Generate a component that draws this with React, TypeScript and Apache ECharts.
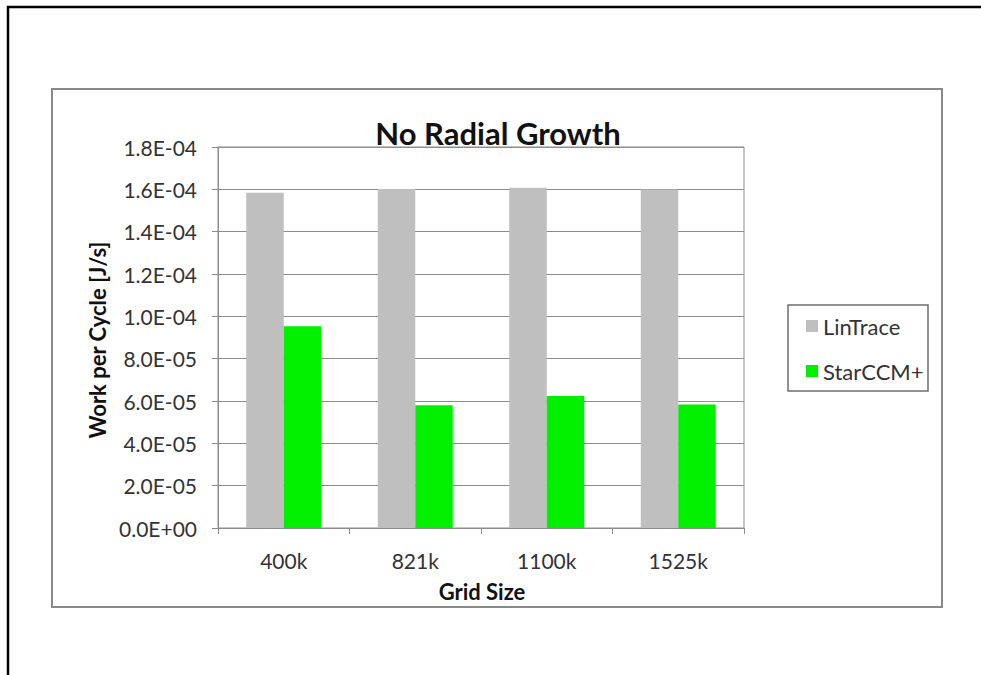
import React, { useEffect, useRef } from "react";
import * as echarts from "echarts";

// Work per cycle for each grid resolution, two solvers
const gridSizes = ["400k", "821k", "1100k", "1525k"];
const seriesNames = ["LinTrace", "StarCCM+"];
const linTrace = [1.584e-4, 1.601e-4, 1.608e-4, 1.599e-4];
const starCCM = [9.53e-5, 5.8e-5, 6.24e-5, 5.83e-5];

const chartTitle = "No Radial Growth";
const xAxisTitle = "Grid Size";
const yAxisTitle = "Work per Cycle [J/s]";
const yMin = 0;
const yMax = 1.8e-4;
const yStep = 2e-5;

const FONT = "Lato, 'Open Sans', sans-serif";

// 1.6E-04 style tick labels
const sci = (v: number): string => {
  const [m, e] = v.toExponential(1).split("e");
  const n = parseInt(e, 10);
  return `${m}E${n < 0 ? "-" : "+"}${String(Math.abs(n)).padStart(2, "0")}`;
};

export default function App() {
  const ref = useRef<HTMLDivElement>(null);

  useEffect(() => {
    if (!ref.current) return;
    const chart = echarts.init(ref.current, undefined, { renderer: "svg" });
    const gridColor = "#8c8c8c";
    chart.setOption({
      animation: false,
      backgroundColor: "#ffffff",
      textStyle: { fontFamily: FONT },
      grid: {
        left: 218,
        top: 147,
        width: 526,
        height: 381,
        show: true,
        borderColor: gridColor,
        borderWidth: 1,
        backgroundColor: "#ffffff",
        containLabel: false,
      },
      legend: {
        data: seriesNames,
        orient: "vertical",
        left: 801,
        top: 310,
        icon: "rect",
        itemWidth: 12,
        itemHeight: 12,
        itemGap: 23,
        textStyle: { fontFamily: FONT, fontSize: 22, color: "#333333", lineHeight: 22 },
      },
      xAxis: {
        type: "category",
        data: gridSizes,
        axisLine: { show: true, lineStyle: { color: gridColor, width: 1 } },
        axisTick: { show: true, length: 6, alignWithLabel: false, lineStyle: { color: gridColor } },
        axisLabel: { fontFamily: FONT, fontSize: 21, color: "#333333", margin: 22 },
        splitLine: { show: false },
      },
      yAxis: {
        type: "value",
        min: yMin,
        max: yMax,
        interval: yStep,
        axisLine: { show: true, lineStyle: { color: gridColor, width: 1 } },
        axisTick: { show: true, length: 6, lineStyle: { color: gridColor } },
        axisLabel: {
          fontFamily: FONT,
          fontSize: 21,
          color: "#333333",
          margin: 21,
          formatter: (v: number) => sci(v),
        },
        splitLine: { show: true, lineStyle: { color: gridColor, width: 1 } },
      },
      series: [
        {
          name: seriesNames[0],
          type: "bar",
          data: linTrace,
          itemStyle: { color: "#bfbfbf" },
          barGap: "0%",
          barCategoryGap: "43%",
        },
        {
          name: seriesNames[1],
          type: "bar",
          data: starCCM,
          itemStyle: { color: "#00f000" },
          barGap: "0%",
          barCategoryGap: "43%",
        },
      ],
      graphic: [
        {
          type: "polyline",
          shape: { points: [[8, 675], [8, 7], [981, 7]] },
          style: { stroke: "#000000", lineWidth: 2.5, fill: "none" },
          silent: true,
        },
        {
          type: "rect",
          shape: { x: 52, y: 89, width: 890, height: 518 },
          style: { stroke: "#8a8a8a", lineWidth: 2, fill: "none" },
          silent: true,
          z: -1,
        },
        {
          type: "rect",
          shape: { x: 788, y: 305, width: 140, height: 86 },
          style: { stroke: "#6e6e6e", lineWidth: 1.5, fill: "none" },
          silent: true,
        },
        {
          type: "text",
          x: 498,
          y: 133,
          style: {
            text: chartTitle,
            font: `bold 31px ${FONT}`,
            fill: "#111111",
            textAlign: "center",
            textVerticalAlign: "middle",
          },
        },
        {
          type: "text",
          x: 482,
          y: 591,
          style: {
            text: xAxisTitle,
            font: `bold 22px ${FONT}`,
            fill: "#111111",
            textAlign: "center",
            textVerticalAlign: "middle",
          },
        },
        {
          type: "text",
          x: 97,
          y: 340,
          rotation: Math.PI / 2,
          style: {
            text: yAxisTitle,
            font: `bold 22px ${FONT}`,
            fill: "#111111",
            textAlign: "center",
            textVerticalAlign: "middle",
          },
        },
      ],
    });
    return () => chart.dispose();
  }, []);

  return (
    <div
      ref={ref}
      style={{ position: "fixed", left: 0, top: 0, width: 981, height: 675, background: "#ffffff" }}
    />
  );
}
